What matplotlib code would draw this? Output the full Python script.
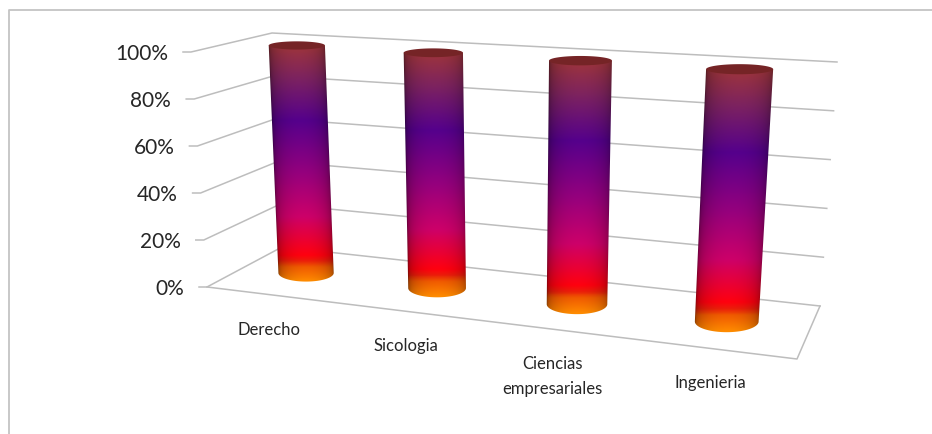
"""
Excel style 3D cylinder chart (100% columns). Matplotlib has no cylinder bars
that look like this, so we project (u, v, h) onto the figure by hand:
u = along categories, v = depth (0 front, 1 back), h = height (0..1).
"""
import numpy as np
import matplotlib
matplotlib.use('Agg')
import matplotlib.pyplot as plt
from matplotlib.colors import LinearSegmentedColormap
from matplotlib.patches import Polygon

categories = ['Derecho', 'Sicologia', 'Ciencias\nempresariales', 'Ingenieria']
values = [100, 100, 100, 100]
tick_values = [0, 20, 40, 60, 80, 100]
tick_labels = ['0%', '20%', '40%', '60%', '80%', '100%']

# box corners in pixels, order: front-left, back-left, back-right, front-right
FLOOR = [(207, 287), (282, 247), (820, 306), (797, 359)]
ROOF = [(191, 52), (272, 33), (837, 62), (793, 87)]

GRID = '#bdbdbd'
TEXT = '#262626'
plt.rcParams['font.family'] = ['Lato', 'DejaVu Sans']

# vertical colour ramp of the cylinders
ramp = [(0.0, (255, 140, 0)), (0.06, (240, 90, 0)), (0.085, (235, 30, 10)),
        (0.11, (255, 0, 15)), (0.27, (205, 0, 105)), (0.45, (150, 0, 125)),
        (0.67, (85, 0, 140)), (0.85, (125, 35, 95)), (1.0, (162, 55, 55))]
cmap = LinearSegmentedColormap.from_list(
    'cyl', [(t, tuple(c / 255 for c in rgb)) for t, rgb in ramp])


def quad_matrix(quad):
    """Homography from the unit square (u, v) to a quad."""
    # u=0,v=0 -> p0; u=0,v=1 -> p1; u=1,v=1 -> p2; u=1,v=0 -> p3
    src = [(0, 0), (0, 1), (1, 1), (1, 0)]
    A, b = [], []
    for (u, v), (x, y) in zip(src, quad):
        A.append([u, v, 1, 0, 0, 0, -u * x, -v * x])
        A.append([0, 0, 0, u, v, 1, -u * y, -v * y])
        b += [x, y]
    return np.append(np.linalg.solve(np.array(A, float), np.array(b, float)), 1).reshape(3, 3)


M_FLOOR = quad_matrix(FLOOR)
M_ROOF = quad_matrix(ROOF)


def on_plane(M, u, v):
    w = M @ np.array([u, v, 1.0])
    return w[:2] / w[2]


def project(u, v, h):
    return on_plane(M_FLOOR, u, v) * (1 - h) + on_plane(M_ROOF, u, v) * h


def draw_cylinder(ax, u0, top, du=0.051, dv=0.21):
    v0 = 0.5
    hs = np.linspace(0, top, 150)
    centre = np.array([project(u0, v0, h) for h in hs])
    centre[:, 0] += hs * (2.0 + 10 * u0)  # axis leans a bit more than the walls
    rx = np.array([(project(u0 + du, v0, h)[0] - project(u0 - du, v0, h)[0]) / 2 for h in hs])
    rx += 2.0 * (1 - u0)
    ry = np.array([(project(u0, v0 - dv, h)[1] - project(u0, v0 + dv, h)[1]) / 2 for h in hs])

    # outline: left side down, front of the base ellipse, right side up, cap
    ang = np.linspace(-np.pi / 2, np.pi / 2, 60)
    outline = np.vstack([
        np.c_[centre[::-1, 0] - rx[::-1], centre[::-1, 1]],
        np.c_[centre[0, 0] + rx[0] * np.sin(ang), centre[0, 1] + ry[0] * np.cos(ang)],
        np.c_[centre[:, 0] + rx, centre[:, 1]],
    ])

    # gradient picture: colour follows screen height, dark towards the edges
    x0, y0 = outline.min(axis=0) - 2
    x1, y1 = outline.max(axis=0) + 2
    xs = np.linspace(x0, x1, 200)
    ys = np.linspace(y0, y1, 500)
    ymax = outline[:, 1].max()
    ytop = centre[-1, 1] - ry[-1]
    t = np.clip((ymax - ys) / (ymax - ytop), 0, 1)
    cx = np.interp(ys, centre[::-1, 1], centre[::-1, 0])
    rr = np.interp(ys, centre[::-1, 1], rx[::-1])
    s = np.clip((xs[None, :] - cx[:, None]) / rr[:, None], -1, 1)
    shade = 0.52 + 0.48 * (1 - s ** 2) ** 0.35
    rgb = cmap(t)[:, None, :3] * shade[:, :, None]

    im = ax.imshow(rgb, extent=(x0, x1, y1, y0), origin='upper', aspect='auto',
                   interpolation='bilinear', zorder=3)
    im.set_clip_path(Polygon(outline, closed=True, transform=ax.transData))

    # flat cap on top
    cap = np.linspace(0, 2 * np.pi, 100)
    ax.fill(centre[-1, 0] + rx[-1] * np.cos(cap), centre[-1, 1] + ry[-1] * np.sin(cap),
            color='#752426', lw=0, zorder=4)


fig = plt.figure(figsize=(9.32, 4.34), dpi=100)
ax = fig.add_axes([0, 0, 1, 1])
ax.axis('off')

# picture frame
ax.plot([8.5, 8.5, 932], [434, 10, 10], color='#c4c4c4', lw=1.3, zorder=1)

# walls: gridline along the left side and the back
for tv, lab in zip(tick_values, tick_labels):
    h = tv / 100
    a = project(0, 0, h)
    b = project(0, 1, h)
    c = project(1, 1, h)
    ax.plot([a[0] - 8, a[0], b[0], c[0]], [a[1], a[1], b[1], c[1]], color=GRID, lw=1.1, zorder=2)
    ax.text(a[0] - 23, a[1] + 2, lab, ha='right', va='center', fontsize=15, color=TEXT)

# floor outline
pts = np.array([project(0, 0, 0), project(1, 0, 0), project(1, 1, 0)])
ax.plot(pts[:, 0], pts[:, 1], color=GRID, lw=1.1, zorder=2)

# cylinders and labels
for i, (cat, val) in enumerate(zip(categories, values)):
    u = (i + 0.5) / len(categories) - 0.0055
    draw_cylinder(ax, u, val / 100)
    p = project(u, 0, 0)
    ax.text(p[0], p[1] + 27, cat, ha='center', va='top', fontsize=12,
            color=TEXT, linespacing=1.7)

# imshow touches the limits, so set them last
ax.set_xlim(0, 932)
ax.set_ylim(434, 0)

fig.savefig('out.png', dpi=100)
